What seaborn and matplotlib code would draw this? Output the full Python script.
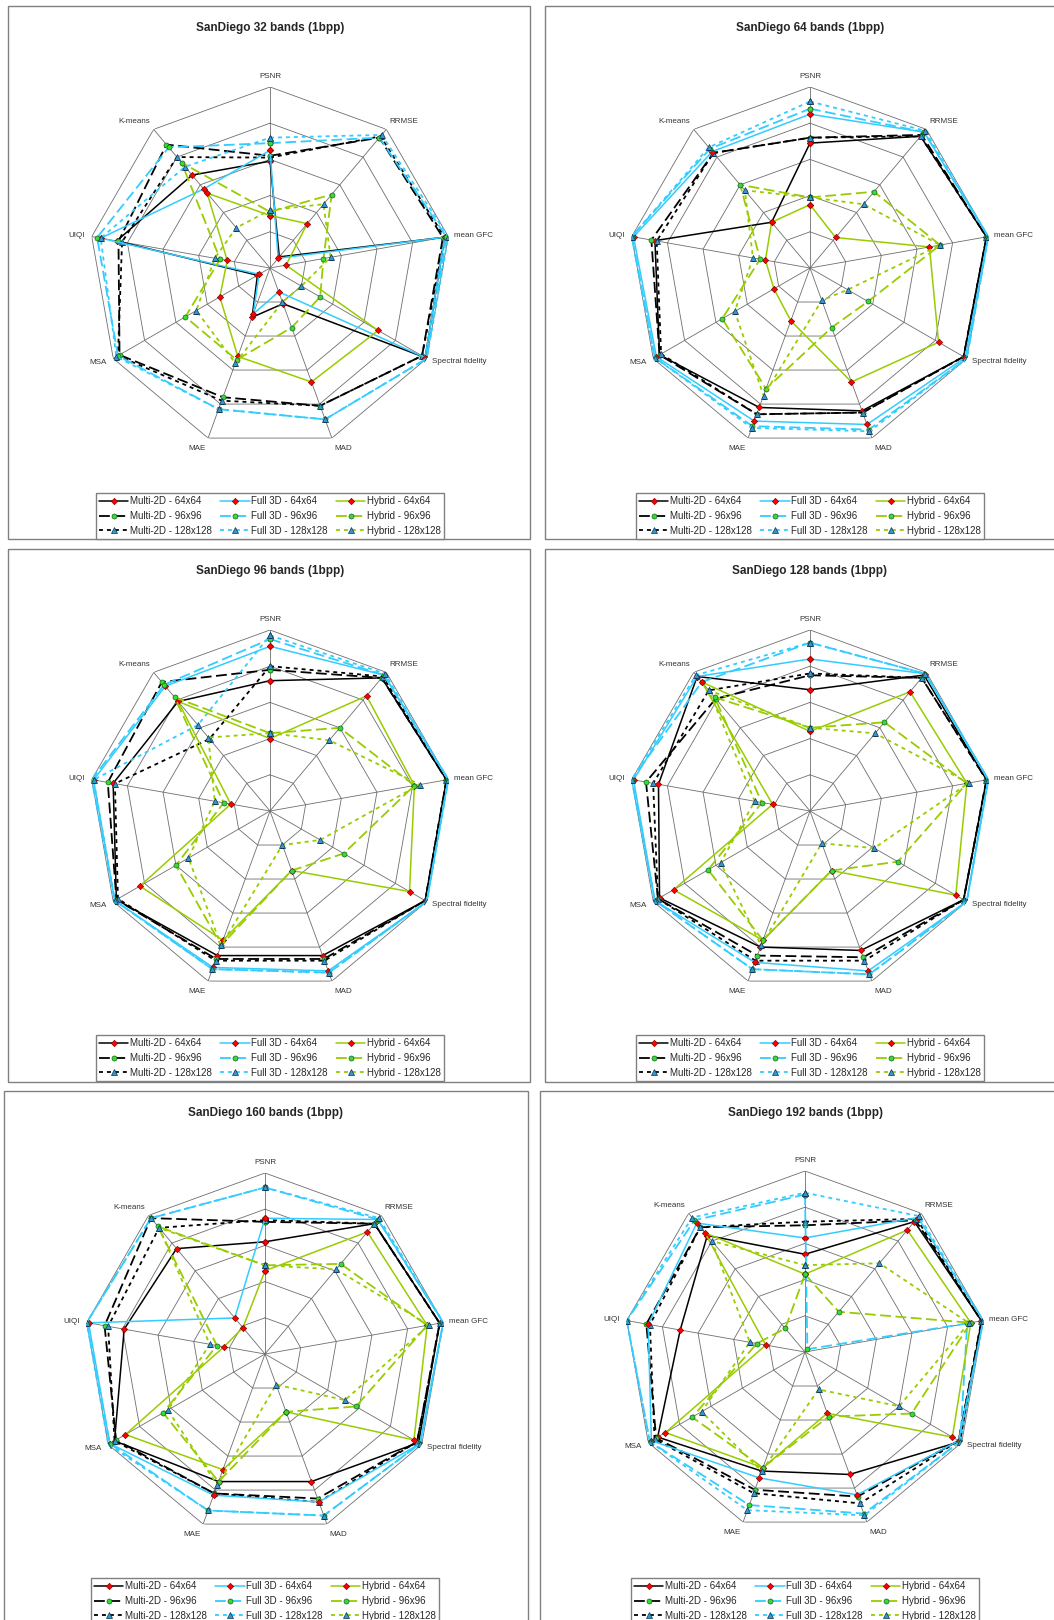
import numpy as np
import pandas as pd
import matplotlib.pyplot as plt
from matplotlib.lines import Line2D
from matplotlib.patches import Rectangle
import seaborn as sns

sns.set_style('white')
plt.rcParams['font.family'] = ['Liberation Sans', 'DejaVu Sans']

metrics = ['PSNR', 'RRMSE', 'mean GFC', 'Spectral fidelity', 'MAD', 'MAE', 'MSA', 'UIQI', 'K-means']
methods = ['Multi-2D', 'Full 3D', 'Hybrid']
blocks = ['64x64', '96x96', '128x128']

# values per band count, rows = 64x64 / 96x96 / 128x128, cols follow metrics
multi2d_32 = [[0.59, 0.08, 0.98, 0.99, 0.21, 0.29, 0.08, 0.86, 0.67],
              [0.62, 0.94, 0.97, 0.97, 0.81, 0.76, 0.96, 0.85, 0.89],
              [0.61, 0.95, 0.98, 0.97, 0.81, 0.78, 0.97, 0.83, 0.80]]
full3d_32 = [[0.65, 0.07, 0.98, 0.99, 0.14, 0.27, 0.07, 0.95, 0.57],
             [0.69, 0.94, 0.99, 1.00, 0.89, 0.83, 0.97, 0.97, 0.87],
             [0.72, 0.96, 1.00, 1.00, 0.89, 0.83, 0.98, 0.95, 0.73]]
hybrid_32 = [[0.29, 0.32, 0.09, 0.69, 0.67, 0.52, 0.32, 0.24, 0.54],
             [0.31, 0.53, 0.30, 0.32, 0.35, 0.54, 0.54, 0.28, 0.76],
             [0.32, 0.46, 0.34, 0.20, 0.20, 0.56, 0.47, 0.31, 0.29]]

multi2d_64 = [[0.69, 0.95, 0.99, 0.98, 0.84, 0.82, 0.96, 0.87, 0.33],
              [0.72, 0.96, 0.99, 0.98, 0.85, 0.86, 0.96, 0.89, 0.83],
              [0.72, 0.95, 0.99, 0.98, 0.85, 0.86, 0.95, 0.86, 0.83]]
full3d_64 = [[0.85, 0.98, 1.00, 0.99, 0.92, 0.90, 0.98, 0.99, 0.84],
             [0.88, 0.98, 1.00, 1.00, 0.95, 0.93, 0.99, 1.00, 0.86],
             [0.92, 0.99, 1.00, 1.00, 0.96, 0.94, 0.99, 1.00, 0.87]]
hybrid_64 = [[0.35, 0.22, 0.67, 0.82, 0.67, 0.31, 0.23, 0.25, 0.33],
             [0.39, 0.55, 0.73, 0.37, 0.35, 0.71, 0.56, 0.28, 0.60],
             [0.39, 0.46, 0.73, 0.24, 0.19, 0.75, 0.48, 0.32, 0.56]]

multi2d_96 = [[0.72, 0.96, 0.99, 0.99, 0.85, 0.85, 0.98, 0.88, 0.79],
              [0.78, 0.96, 0.99, 0.99, 0.87, 0.87, 0.98, 0.91, 0.93],
              [0.80, 0.97, 0.99, 0.99, 0.88, 0.88, 0.97, 0.87, 0.52]]
full3d_96 = [[0.91, 0.98, 1.00, 1.00, 0.94, 0.92, 0.99, 0.99, 0.90],
             [0.95, 0.98, 1.00, 1.00, 0.95, 0.93, 0.99, 1.00, 0.91],
             [0.97, 0.99, 1.00, 1.00, 0.95, 0.93, 0.99, 0.99, 0.62]]
hybrid_96 = [[0.40, 0.83, 0.81, 0.89, 0.35, 0.76, 0.83, 0.22, 0.79],
             [0.43, 0.60, 0.81, 0.47, 0.35, 0.79, 0.60, 0.26, 0.82],
             [0.43, 0.51, 0.84, 0.32, 0.20, 0.79, 0.52, 0.31, 0.53]]

multi2d_128 = [[0.67, 0.98, 0.99, 0.98, 0.82, 0.80, 0.96, 0.85, 0.97],
               [0.75, 0.96, 0.99, 0.98, 0.86, 0.85, 0.97, 0.92, 0.81],
               [0.76, 0.96, 0.99, 0.98, 0.88, 0.88, 0.97, 0.88, 0.87]]
full3d_128 = [[0.84, 0.99, 1.00, 1.00, 0.94, 0.89, 0.99, 0.99, 0.97],
              [0.93, 0.99, 1.00, 1.00, 0.96, 0.93, 0.99, 1.00, 0.93],
              [0.93, 0.99, 1.00, 1.00, 0.96, 0.93, 0.99, 1.00, 0.98]]
hybrid_128 = [[0.44, 0.86, 0.88, 0.93, 0.35, 0.76, 0.87, 0.21, 0.93],
              [0.46, 0.64, 0.88, 0.56, 0.35, 0.76, 0.65, 0.27, 0.82],
              [0.46, 0.56, 0.89, 0.41, 0.19, 0.79, 0.57, 0.31, 0.87]]

multi2d_160 = [[0.62, 0.94, 0.98, 0.98, 0.75, 0.75, 0.96, 0.79, 0.76],
               [0.73, 0.94, 0.98, 0.97, 0.85, 0.82, 0.95, 0.90, 0.98],
               [0.74, 0.94, 0.98, 0.97, 0.87, 0.82, 0.96, 0.88, 0.91]]
full3d_160 = [[0.75, 0.97, 1.00, 0.99, 0.87, 0.83, 0.99, 0.99, 0.26],
              [0.92, 0.97, 1.00, 0.99, 0.95, 0.92, 0.99, 1.00, 0.98],
              [0.92, 0.98, 1.00, 0.99, 0.95, 0.92, 1.00, 1.00, 0.98]]
hybrid_160 = [[0.46, 0.88, 0.91, 0.95, 0.34, 0.68, 0.89, 0.23, 0.19],
              [0.49, 0.65, 0.91, 0.58, 0.34, 0.75, 0.65, 0.27, 0.92],
              [0.49, 0.61, 0.92, 0.51, 0.18, 0.77, 0.62, 0.31, 0.91]]

multi2d_192 = [[0.54, 0.94, 0.99, 0.99, 0.72, 0.70, 0.94, 0.70, 0.84],
               [0.70, 0.95, 0.99, 0.98, 0.85, 0.81, 0.95, 0.89, 0.90],
               [0.72, 0.96, 0.99, 0.98, 0.89, 0.83, 0.96, 0.87, 0.90]]
full3d_192 = [[0.63, 0.97, 1.00, 0.98, 0.84, 0.74, 0.98, 0.88, 0.93],
              [0.87, 0.02, 0.91, 0.99, 0.95, 0.90, 0.99, 1.00, 0.95],
              [0.88, 0.98, 1.00, 0.99, 0.96, 0.93, 0.99, 1.00, 0.97]]
hybrid_192 = [[0.43, 0.88, 0.93, 0.94, 0.36, 0.68, 0.89, 0.22, 0.86],
              [0.43, 0.29, 0.93, 0.68, 0.38, 0.68, 0.72, 0.27, 0.17],
              [0.48, 0.64, 0.92, 0.60, 0.22, 0.70, 0.66, 0.31, 0.80]]

charts = [
    (32, multi2d_32, full3d_32, hybrid_32),
    (64, multi2d_64, full3d_64, hybrid_64),
    (96, multi2d_96, full3d_96, hybrid_96),
    (128, multi2d_128, full3d_128, hybrid_128),
    (160, multi2d_160, full3d_160, hybrid_160),
    (192, multi2d_192, full3d_192, hybrid_192),
]

# layout in pixels: panel box, radar centre, title and legend top
W, H = 1054, 1620
boxes = [(8, 6, 530, 539), (545, 6, 1060, 539),
         (8, 549, 530, 1082), (545, 549, 1060, 1082),
         (4, 1091, 528, 1630), (540, 1091, 1060, 1630)]
centers = [(270, 268), (810, 268), (270, 811), (810, 811), (265, 1354), (805, 1352)]
title_y = [28, 28, 571, 571, 1113, 1113]
legend_top = [493, 493, 1035, 1035, 1578, 1578]
RY, RX = 181, 181

line_colors = ['#000000', '#33CCFF', '#99CC00']
dash_styles = ['-', (0, (6, 2.5)), (0, (2.2, 2.2))]
marker_styles = [dict(marker='D', markersize=3.2, markerfacecolor='#FF0000', markeredgecolor='#8B0000'),
                 dict(marker='o', markersize=3.6, markerfacecolor='#33DD33', markeredgecolor='#1B5E20'),
                 dict(marker='^', markersize=4.2, markerfacecolor='#3399CC', markeredgecolor='#0D3355')]

theta = np.linspace(0, 2 * np.pi, len(metrics), endpoint=False)
theta_c = np.append(theta, theta[0] + 2 * np.pi)

label_pos = {'PSNR': (1.04, 'center', 'bottom'), 'RRMSE': (1.03, 'left', 'bottom'),
             'mean GFC': (1.035, 'left', 'center'), 'Spectral fidelity': (1.035, 'left', 'center'),
             'MAD': (1.04, 'left', 'top'), 'MAE': (1.04, 'right', 'top'),
             'MSA': (1.04, 'right', 'center'), 'UIQI': (1.04, 'right', 'center'),
             'K-means': (1.03, 'right', 'bottom')}

fig = plt.figure(figsize=(W / 100, H / 100), dpi=100)

for i, (bands, m2d, f3d, hyb) in enumerate(charts):
    x0, y0, x1, y1 = boxes[i]
    fig.patches.append(Rectangle((x0 / W, 1 - y1 / H), (x1 - x0) / W, (y1 - y0) / H,
                                 transform=fig.transFigure, fill=False,
                                 edgecolor='#808080', linewidth=1.0))
    cx, cy = centers[i]
    ax = fig.add_axes([(cx - RX) / W, 1 - (cy + RY) / H, 2 * RX / W, 2 * RY / H], projection='polar')
    ax.set_aspect('auto')
    ax.set_theta_offset(np.pi / 2)
    ax.set_theta_direction(-1)
    ax.set_facecolor('none')
    ax.grid(False)
    ax.spines['polar'].set_visible(False)
    ax.set_xticks([])
    ax.set_yticks([])

    # nonagon grid
    for r in [0.2, 0.4, 0.6, 0.8, 1.0]:
        ax.plot(theta_c, [r] * len(theta_c), color='#6e6e6e', lw=0.6, zorder=1)
    for t in theta:
        ax.plot([t, t], [0, 1], color='#6e6e6e', lw=0.6, zorder=1)

    for k, name in enumerate(metrics):
        r, ha, va = label_pos[name]
        ax.text(theta[k], r, name, ha=ha, va=va, fontsize=5.8, color='#333333')

    for mi, data in enumerate([m2d, f3d, hyb]):
        for bi in range(3):
            vals = list(data[bi]) + [data[bi][0]]
            df = pd.DataFrame({'theta': theta_c, 'value': vals})
            sns.lineplot(data=df, x='theta', y='value', ax=ax, sort=False, estimator=None,
                         color=line_colors[mi], linestyle=dash_styles[bi],
                         linewidth=1.1 if bi == 0 else 1.3, markeredgewidth=0.5,
                         label=f'{methods[mi]} - {blocks[bi]}', legend=False,
                         zorder=3, **marker_styles[bi])
    ax.set_xlabel('')
    ax.set_ylabel('')
    ax.set_ylim(0, 1)

    fig.text(cx / W, 1 - title_y[i] / H, f'SanDiego {bands} bands (1bpp)',
             ha='center', va='center', fontsize=8.5, fontweight='bold')

    handles = []
    for mi in range(3):
        for bi in range(3):
            handles.append(Line2D([], [], color=line_colors[mi], linestyle=dash_styles[bi],
                                  linewidth=1.1 if bi == 0 else 1.3, markeredgewidth=0.5,
                                  **marker_styles[bi]))
    labels = [f'{m} - {b}' for m in methods for b in blocks]
    fig.legend(handles, labels, loc='upper center', ncol=3,
               bbox_to_anchor=(cx / W, 1 - legend_top[i] / H),
               fontsize=7.0, frameon=True, fancybox=False, edgecolor='#808080',
               framealpha=1, handlelength=3.0, handletextpad=0.15, columnspacing=0.9,
               labelspacing=0.48, borderpad=0.35, borderaxespad=0)

fig.savefig('out.png', dpi=100, facecolor='white')
